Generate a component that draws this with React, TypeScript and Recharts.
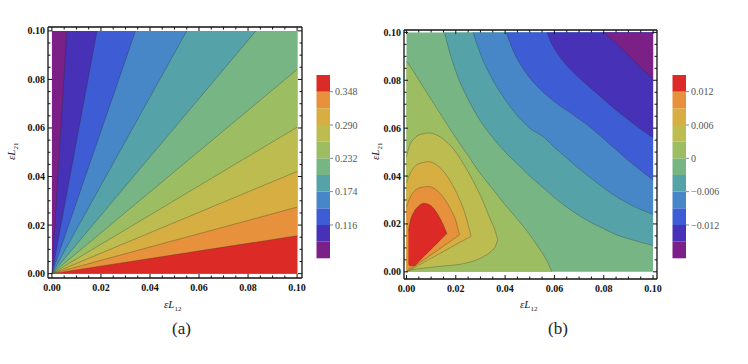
import * as React from "react";
import { ComposedChart, Area, Line, XAxis, YAxis, ReferenceArea } from "recharts";

// colour bands, lowest value first (purple) to highest (red)
const bandColors = [
  "#7a2087", "#4631b7", "#3e5cd3", "#4887c7", "#56a2a9", "#78b585",
  "#9dbd63", "#bdbc51", "#d6ae41", "#e7913c", "#dc2a26",
];

const axisTicks = [
  0, 0.005, 0.01, 0.015, 0.02, 0.025, 0.03, 0.035, 0.04, 0.045, 0.05,
  0.055, 0.06, 0.065, 0.07, 0.075, 0.08, 0.085, 0.09, 0.095, 0.1,
];

// (a) contour rays from the origin: where they meet the top edge, then the right edge
const rayTopX = [0.0061, 0.0184, 0.0341, 0.055, 0.0832];
const rayRightY = [0.0841, 0.0603, 0.0421, 0.0274, 0.0156];

const barEdgesA = [0.058, 0.087, 0.116, 0.145, 0.174, 0.203, 0.232, 0.261, 0.29, 0.319, 0.348, 0.377];
const barTicksA = [0.116, 0.174, 0.232, 0.29, 0.348];

// (b) contours that close around the top-right corner (x, y)
const level3 = [[0.0154, 0.1], [0.018, 0.09], [0.021, 0.081], [0.025, 0.072], [0.03, 0.063], [0.035, 0.056], [0.04, 0.05], [0.045, 0.045], [0.05, 0.04], [0.055, 0.0355], [0.06, 0.031], [0.065, 0.027], [0.07, 0.0235], [0.075, 0.0205], [0.08, 0.018], [0.085, 0.0155], [0.09, 0.0138], [0.095, 0.0123], [0.1, 0.011]];
const level6 = [[0.027, 0.1], [0.03, 0.091], [0.034, 0.082], [0.038, 0.075], [0.042, 0.069], [0.046, 0.064], [0.05, 0.06], [0.056, 0.056], [0.06, 0.052], [0.065, 0.0475], [0.07, 0.043], [0.075, 0.039], [0.08, 0.035], [0.085, 0.0315], [0.09, 0.0285], [0.095, 0.026], [0.1, 0.024]];
const level9 = [[0.0405, 0.1], [0.043, 0.093], [0.046, 0.087], [0.05, 0.081], [0.055, 0.0755], [0.06, 0.071], [0.067, 0.066], [0.075, 0.06], [0.08, 0.0555], [0.085, 0.051], [0.09, 0.0465], [0.095, 0.0423], [0.1, 0.0383]];
const level12 = [[0.057, 0.1], [0.059, 0.095], [0.062, 0.09], [0.066, 0.085], [0.07, 0.081], [0.075, 0.0765], [0.08, 0.072], [0.085, 0.0675], [0.09, 0.0635], [0.095, 0.0595], [0.1, 0.056]];
const level15 = [[0.08, 0.1], [0.085, 0.0955], [0.09, 0.0905], [0.095, 0.0855], [0.1, 0.0806]];

// (b) zero contour, left edge down to bottom edge (x, y)
const level0 = [[0, 0.088], [0.003, 0.0835], [0.006, 0.0785], [0.01, 0.072], [0.015, 0.064], [0.02, 0.056], [0.025, 0.0485], [0.03, 0.041], [0.035, 0.0345], [0.04, 0.028], [0.045, 0.022], [0.05, 0.0155], [0.054, 0.0095], [0.057, 0.0045], [0.059, 0]];

// (b) closed loops around the peak (x, low, high)
const loopOlive = [[0, 0, 0.048], [0.001, 0.0005, 0.052], [0.003, 0.001, 0.0555], [0.006, 0.0014, 0.0575], [0.009, 0.0018, 0.058], [0.012, 0.0021, 0.0573], [0.016, 0.0025, 0.0545], [0.02, 0.0029, 0.05], [0.024, 0.0036, 0.0435], [0.028, 0.0048, 0.036], [0.031, 0.0062, 0.0295], [0.034, 0.0083, 0.022], [0.036, 0.0105, 0.017], [0.037, 0.0134, 0.0134]];
const loopMustard = [[0, 0, 0.037], [0.001, 0.0006, 0.04], [0.003, 0.0017, 0.0435], [0.006, 0.0034, 0.0455], [0.009, 0.0051, 0.046], [0.012, 0.0068, 0.0448], [0.015, 0.0085, 0.042], [0.018, 0.0102, 0.0375], [0.021, 0.012, 0.0315], [0.024, 0.0136, 0.0235], [0.0262, 0.0148, 0.0148]];
const loopOrange = [[0, 0, 0.027], [0.001, 0.001, 0.03], [0.003, 0.0022, 0.0335], [0.006, 0.0043, 0.0353], [0.009, 0.0064, 0.0356], [0.012, 0.0085, 0.0343], [0.015, 0.0107, 0.031], [0.018, 0.0129, 0.026], [0.02, 0.0143, 0.0215], [0.0215, 0.0154, 0.0154]];
const loopRed = [[0.0008, 0.0035, 0.017], [0.0015, 0.0025, 0.021], [0.003, 0.0025, 0.025], [0.005, 0.0043, 0.0275], [0.007, 0.0064, 0.0286], [0.009, 0.0084, 0.0282], [0.011, 0.0105, 0.0265], [0.013, 0.0125, 0.0235], [0.015, 0.0146, 0.0195], [0.0164, 0.016, 0.016]];

const barEdgesB = [-0.018, -0.015, -0.012, -0.009, -0.006, -0.003, 0, 0.003, 0.006, 0.009, 0.012, 0.015];
const barTicksB = [-0.012, -0.006, 0, 0.006, 0.012];

const SERIF = "'Liberation Serif', 'DejaVu Serif', serif";
const LINE = "rgba(40,50,40,0.45)";

type Side = "bottom" | "top" | "left" | "right";
const isMajor = (v: number) => Math.abs(v / 0.02 - Math.round(v / 0.02)) < 1e-6;

function makeTick(side: Side) {
  return (props: any) => {
    const { x, y, payload } = props;
    const v = payload.value as number;
    const major = isMajor(v);
    const len = major ? 4 : 2.5;
    let l = { x1: x, y1: y, x2: x, y2: y - len };
    if (side === "top") l = { x1: x, y1: y, x2: x, y2: y + len };
    if (side === "left") l = { x1: x, y1: y, x2: x + len, y2: y };
    if (side === "right") l = { x1: x, y1: y, x2: x - len, y2: y };
    return (
      <g>
        <line {...l} stroke="#111" strokeWidth={1} />
        {major && side === "bottom" && (
          <text x={x} y={y + 13} textAnchor="middle" fontFamily={SERIF} fontWeight="bold" fontSize={10} fill="#111">
            {v.toFixed(2)}
          </text>
        )}
        {major && side === "left" && (
          <text x={x - 3} y={y + 3.5} textAnchor="end" fontFamily={SERIF} fontWeight="bold" fontSize={10} fill="#111">
            {v.toFixed(2)}
          </text>
        )}
      </g>
    );
  };
}

function frameAxes(xDomain: number[], yDomain: number[]) {
  const common = {
    type: "number" as const,
    ticks: axisTicks,
    interval: 0 as const,
    tickSize: 0,
    tickMargin: 0,
    tickLine: false,
    allowDataOverflow: true,
    axisLine: { stroke: "#111", strokeWidth: 1.3 },
  };
  return [
    <XAxis key="xb" xAxisId="b" dataKey="x" domain={xDomain} height={20} tick={makeTick("bottom")} {...common} />,
    <XAxis key="xt" xAxisId="t" dataKey="x" orientation="top" domain={xDomain} height={1} tick={makeTick("top")} {...common} />,
    <YAxis key="yl" yAxisId="l" domain={yDomain} width={40} tick={makeTick("left")} {...common} />,
    <YAxis key="yr" yAxisId="r" orientation="right" domain={yDomain} width={1} tick={makeTick("right")} {...common} />,
  ];
}

const pts = (arr: number[][]) => arr.map(([x, y]) => ({ x, y }));
const ranges = (arr: number[][]) => arr.map(([x, lo, hi]) => ({ x, r: [lo, hi] }));

function PanelA() {
  const rays = [
    ...rayTopX.map((tx) => [{ x: 0, y: 0 }, { x: tx, y: 0.1 }, { x: 0.1, y: 0.1 }]),
    ...rayRightY.map((ry) => [{ x: 0, y: 0 }, { x: 0.1, y: ry }]),
  ];
  const full = [{ x: 0, y: 0.1 }, { x: 0.1, y: 0.1 }];
  return (
    <ComposedChart width={320} height={300} margin={{ top: 26, left: 8, right: 17, bottom: 2 }}>
      {frameAxes([-0.0016, 0.102], [-0.0018, 0.1016])}
      <Area xAxisId="b" yAxisId="l" data={full} dataKey="y" type="linear" baseValue={0} fill={bandColors[0]} fillOpacity={1} stroke="none" isAnimationActive={false} />
      {rays.map((d, i) => (
        <Area key={"a" + i} xAxisId="b" yAxisId="l" data={d} dataKey="y" type="linear" baseValue={0} fill={bandColors[i + 1]} fillOpacity={1} stroke="none" isAnimationActive={false} />
      ))}
      {rays.map((d, i) => (
        <Line key={"l" + i} xAxisId="b" yAxisId="l" data={d.slice(0, 2)} dataKey="y" type="linear" stroke={LINE} strokeWidth={0.7} dot={false} isAnimationActive={false} />
      ))}
    </ComposedChart>
  );
}

function PanelB() {
  const full = [{ x: 0, y: 0.1 }, { x: 0.1, y: 0.1 }];
  const corner = [level3, level6, level9, level12, level15];
  const loops = [loopOlive, loopMustard, loopOrange, loopRed];
  return (
    <ComposedChart width={320} height={300} margin={{ top: 29, left: 4, right: 22, bottom: 1 }}>
      {frameAxes([-0.001, 0.1016], [-0.003, 0.101])}
      <Area xAxisId="b" yAxisId="l" data={full} dataKey="y" type="linear" baseValue={0} fill={bandColors[5]} fillOpacity={1} stroke="none" isAnimationActive={false} />
      {corner.map((c, i) => (
        <Area key={"c" + i} xAxisId="b" yAxisId="l" data={pts(c)} dataKey="y" type="monotone" baseValue={0.1} fill={bandColors[4 - i]} fillOpacity={1} stroke={LINE} strokeWidth={0.7} isAnimationActive={false} />
      ))}
      <Area xAxisId="b" yAxisId="l" data={pts(level0)} dataKey="y" type="monotone" baseValue={0} fill={bandColors[6]} fillOpacity={1} stroke={LINE} strokeWidth={0.7} isAnimationActive={false} />
      {loops.map((c, i) => (
        <Area key={"o" + i} xAxisId="b" yAxisId="l" data={ranges(c)} dataKey="r" type="monotone" fill={bandColors[7 + i]} fillOpacity={1} stroke={LINE} strokeWidth={0.7} isAnimationActive={false} />
      ))}
    </ComposedChart>
  );
}

function ColorBar({ edges, ticks, fmt }: { edges: number[]; ticks: number[]; fmt: (v: number) => string }) {
  return (
    <ComposedChart width={74} height={205} margin={{ top: 10, left: 10.5, right: 0, bottom: 11.7 }}>
      <XAxis xAxisId="c" type="number" dataKey="x" domain={[0, 1]} hide allowDataOverflow />
      <YAxis
        yAxisId="c"
        type="number"
        orientation="right"
        domain={[edges[0], edges[edges.length - 1]]}
        allowDataOverflow
        ticks={ticks}
        interval={0}
        width={50}
        axisLine={false}
        tickSize={3}
        tickMargin={2}
        tickLine={{ stroke: "#888" }}
        tickFormatter={fmt}
        tick={{ fontFamily: SERIF, fontSize: 10, fill: "#555" }}
      />
      {bandColors.map((c, i) => (
        <ReferenceArea key={i} xAxisId="c" yAxisId="c" x1={0} x2={1} y1={edges[i]} y2={edges[i + 1]} fill={c} fillOpacity={1} stroke="none" ifOverflow="visible" />
      ))}
    </ComposedChart>
  );
}

const abs = (left: number, top: number): React.CSSProperties => ({ position: "absolute", left, top });

function AxisTitle({ sub }: { sub: string }) {
  return (
    <span style={{ fontFamily: SERIF, fontStyle: "italic", fontSize: 11, color: "#222", whiteSpace: "nowrap" }}>
      εL<sub style={{ fontSize: 7, fontStyle: "normal" }}>{sub}</sub>
    </span>
  );
}

export default function App() {
  return (
    <div style={{ position: "absolute", left: 0, top: 0, width: 748, height: 364, background: "#fff" }}>
      <div style={abs(0, 0)}><PanelA /></div>
      <div style={abs(360, 0)}><PanelB /></div>
      <div style={abs(306, 65)}>
        <ColorBar edges={barEdgesA} ticks={barTicksA} fmt={(v) => v.toFixed(3)} />
      </div>
      <div style={abs(662, 65)}>
        <ColorBar edges={barEdgesB} ticks={barTicksB} fmt={(v) => (v === 0 ? "0" : v < 0 ? "\u2212" + (-v).toFixed(3) : v.toFixed(3))} />
      </div>
      <div style={abs(164, 294)}><AxisTitle sub="12" /></div>
      <div style={abs(520, 294)}><AxisTitle sub="12" /></div>
      <div style={{ ...abs(1, 140), transform: "rotate(-90deg)", transformOrigin: "10px 10px" }}><AxisTitle sub="21" /></div>
      <div style={{ ...abs(365, 140), transform: "rotate(-90deg)", transformOrigin: "10px 10px" }}><AxisTitle sub="21" /></div>
      <div style={{ ...abs(172, 319), fontFamily: SERIF, fontSize: 17, color: "#222" }}>(a)</div>
      <div style={{ ...abs(548, 319), fontFamily: SERIF, fontSize: 17, color: "#222" }}>(b)</div>
    </div>
  );
}
